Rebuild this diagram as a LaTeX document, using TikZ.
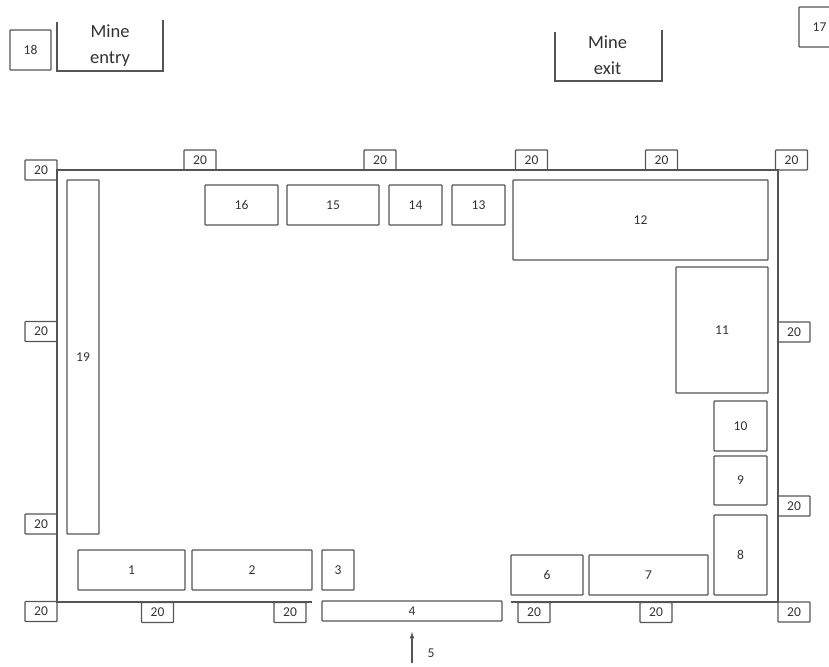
\documentclass[tikz,border=0pt]{standalone}
\usepackage{fontspec}
\setmainfont{Carlito}
\usepackage{xcolor}
\definecolor{ink}{RGB}{85,85,85}
\definecolor{txt}{RGB}{50,50,50}
\tikzset{
  box/.style={draw=ink,line width=1.2pt,rounded corners=0.8pt,inner sep=0pt,outer sep=0pt,
    font=\fontsize{13.5}{15}\selectfont,text=txt,align=center},
  tag/.style={box,minimum width=32pt,minimum height=20pt},
  wall/.style={draw=ink,line width=1.2pt},
  lbl/.style={font=\fontsize{18.5}{26.5}\selectfont,text=txt,align=center},
}
% centre x / centre y / width / height / number
\newcommand{\unitbox}[5]{\node[box,minimum width=#3pt,minimum height=#4pt] (u#5) at (#1,#2) {#5};}
\begin{document}
\begin{tikzpicture}[x=1pt,y=-1pt]
  \useasboundingbox (0,0) rectangle (829,666);
  % walls of the yard
  \coordinate (tl) at (57,170);
  \coordinate (tr) at (778,170);
  \coordinate (bl) at (57,602);
  \coordinate (br) at (778,602);
  \coordinate (gapl) at (312,602);
  \coordinate (gapr) at (511,602);
  \draw[wall] (gapl) -- (bl) -- (tl) -- (tr) -- (br) -- (gapr);
  % numbered units
  \foreach \cx/\cy/\w/\h/\n in {131.5/570/107/40/1, 252/570/120/40/2, 338/570/32/40/3,
    412/611/180/20/4, 547/575/72/40/6, 648.5/575/119/40/7, 740.5/555/53/80/8,
    740.5/480.5/53/49/9, 740.5/426/53/50/10, 722/330/92/126/11, 640.5/220/255/80/12,
    478.5/205/53/40/13, 415.5/205/53/40/14, 333/205/92/40/15, 241.5/205/73/40/16,
    819.5/27/41/40/17, 30.5/50/41/40/18, 83/357/32/354/19}
    {\unitbox{\cx}{\cy}{\w}{\h}{\n}}
  % the 20 tags round the walls
  \foreach \cx/\cy [count=\i] in {41/170, 200/160, 380/160, 531.5/160, 661.5/160, 791.5/160,
    41/331.5, 41/524, 41/611.5, 157.5/612.5, 290/612.5, 534/612.5, 656/612.5,
    794/612, 794/332, 794/506}
    {\node[tag] (t\i) at (\cx,\cy) {20};}
  % entry and exit
  \node[lbl] (entry) at (110,45.5) {Mine\\entry};
  \node[lbl] (exit) at (607.5,55) {Mine\\exit};
  \draw[wall] (57,22) |- (163,71) -- (163,20);
  \draw[wall] (555,32) |- (662,81) -- (662,30);
  % access arrow
  \coordinate (in) at (412,663);
  \draw[wall,-latex] (in) -- (u4.south |- 0,632);
  \node[box,draw=none] (five) at (431,653) {5};
\end{tikzpicture}
\end{document}
